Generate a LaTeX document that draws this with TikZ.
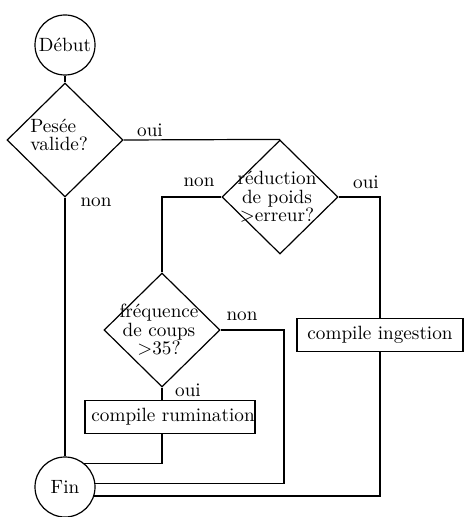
\documentclass[tikz,border=0pt]{standalone}
\usetikzlibrary{shapes.geometric}
\begin{document}
\begin{tikzpicture}[x=0.5pt,y=-0.5pt,
  every node/.style={font={\fontsize{9.6pt}{9.3pt}\selectfont}},
  line/.style={draw=black,line width=0.6pt},
  term/.style={circle,draw,line width=0.6pt,minimum size=30pt,inner sep=0pt},
  dia/.style={diamond,draw,line width=0.6pt,minimum width=58pt,minimum height=57pt,inner sep=0pt},
  txt/.style={align=center,inner sep=0pt},
  box/.style={draw,line width=0.6pt,minimum height=16.5pt,inner sep=0pt}]
\useasboundingbox (0,0) rectangle (465,517);
% nodes
\node[term] (debut) at (65,45) {Début};
\node[dia] (pesee) at (65,140) {};
\node[align=left,inner sep=0pt,anchor=west] (peseet) at (30,135) {Pesée\\valide?};
\node[dia] (reduc) at (280,197) {};
\node[txt] (reduct) at (277,197) {réduction\\de poids\\>erreur?};
\node[dia] (freq) at (162,330) {};
\node[txt] (freqt) at (159,330) {fréquence\\de coups\\>35?};
\node[box,minimum width=85pt] (rum) at (170,417) {};
\node[anchor=west,inner sep=0pt] (rumt) at (91,417) {compile rumination};
\node[box,minimum width=83pt] (ingest) at (380,335) {};
\node[anchor=west,inner sep=0pt] (ingestt) at (307,335) {compile ingestion};
\node[term] (fin) at (65,487) {Fin};
% labels
\node (l1) at (150,130) {oui};
\node (l2) at (96,202) {non};
\node (l3) at (199,182) {non};
\node (l4) at (366,182) {oui};
\node (l5) at (242,316) {non};
\node (l6) at (188,390) {oui};
% connectors
\coordinate (xn) at (284,0);
\draw[line] (debut) -- (pesee.north);
\draw[line] (pesee.east) -- (reduc.north);
\draw[line] (pesee.south) -- (fin.north);
\draw[line] (reduc.west) -| (freq.north);
\draw[line] (reduc.east) -| (ingest.north);
\draw[line] (freq.south) -- (freq.south |- rum.north);
\draw[line] (freq.east) -| (fin.6 -| xn) -- (fin.6);
\draw[line] (rum.south -| freq.south) |- (fin.51);
\draw[line] (ingest.south) |- (fin.-17);
\end{tikzpicture}
\end{document}
